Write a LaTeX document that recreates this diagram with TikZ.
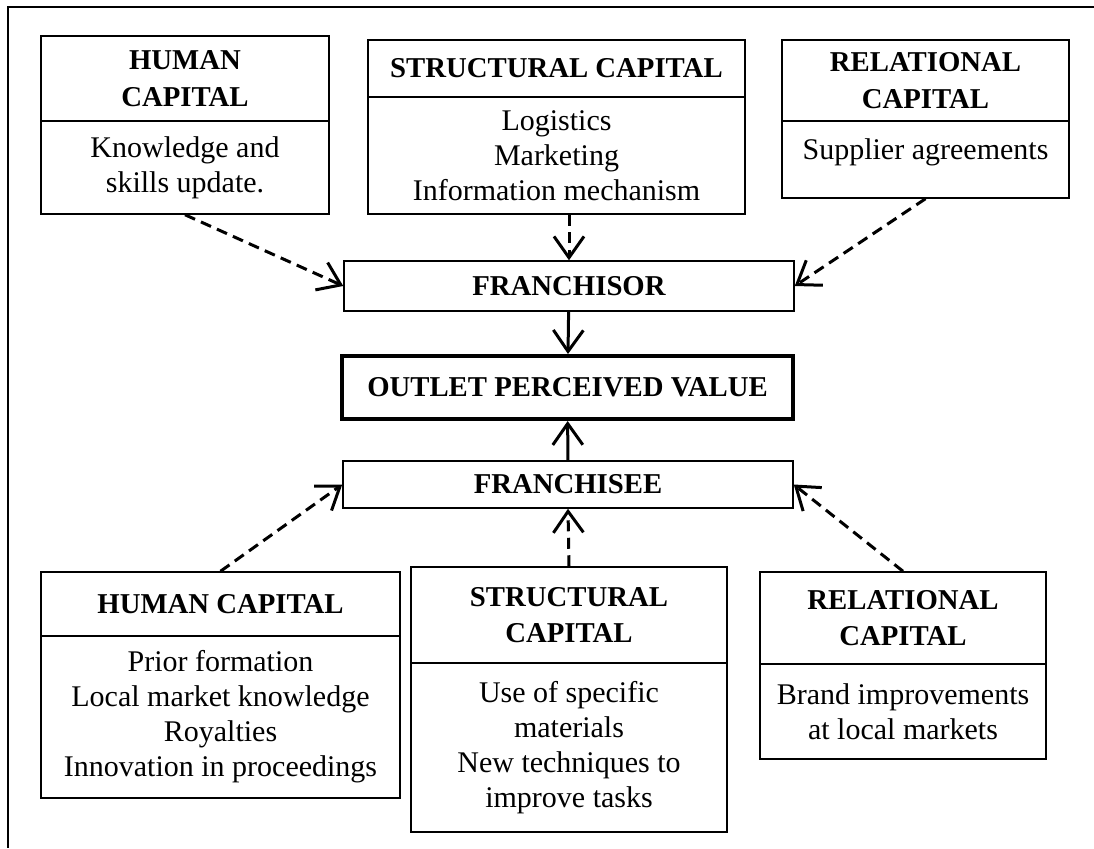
\documentclass[tikz,border=0pt]{standalone}
\usepackage{fontspec}
\setmainfont{Liberation Serif}
\usetikzlibrary{arrows.meta}

\begin{document}
\begin{tikzpicture}[x=0.4pt, y=-0.4pt,
        head/.style={draw, line width=0.6pt, align=center, inner sep=1pt, font=\bfseries\fontsize{11.5}{14.6}\selectfont},
        body/.style={draw, line width=0.6pt, align=center, inner sep=1pt, font=\fontsize{12}{14}\selectfont},
        dasharrow/.style={line width=1.2pt, dash pattern=on 4.4pt off 2.6pt, -{Straight Barb[length=8.5pt, width=12pt]}},
        fullarrow/.style={line width=1.2pt, -{Straight Barb[length=8.5pt, width=12pt]}}]
        \useasboundingbox (0,0) rectangle (1094,848);
        \draw[line width=0.8pt] (1094,7) -- (8,7) -- (8,848);

        % franchisor side
        \node[head, minimum width=115.2pt, minimum height=34pt] (hcAhead) at (185,78.5) {HUMAN\\CAPITAL};
        \node[body, minimum width=115.2pt, minimum height=37.2pt] (hcAbody) at (185,167.5) {Knowledge and\\skills update.};

        \node[head, minimum width=150.8pt, minimum height=22.8pt] (scAhead) at (556.5,68.5) {STRUCTURAL CAPITAL};
        \node[body, minimum width=150.8pt, minimum height=46.8pt] (scAbody) at (556.5,155.5) {Logistics\\Marketing\\Information mechanism};

        \node[head, minimum width=114.8pt, minimum height=32.4pt] (rcAhead) at (925.5,80.5) {RELATIONAL\\CAPITAL};
        \node[body, minimum width=114.8pt, minimum height=30.8pt] (rcAbody) at (925.5,159.5) {Supplier agreements\\[-6pt]\mbox{}};

        \node[head, minimum width=180pt, minimum height=20pt] (franchisor) at (569,286) {FRANCHISOR};
        \node[head, line width=1.6pt, minimum width=180.4pt, minimum height=25.2pt] (outlet) at (567.5,387.5) {OUTLET PERCEIVED VALUE};
        \node[head, minimum width=180pt, minimum height=18.8pt] (franchisee) at (568,484.5) {FRANCHISEE};

        % franchisee side
        \node[head, minimum width=143.6pt, minimum height=25.6pt] (hcBhead) at (220.5,604) {HUMAN CAPITAL};
        \node[body, minimum width=143.6pt, minimum height=64.8pt] (hcBbody) at (220.5,717) {Prior formation\\Local market knowledge\\Royalties\\Innovation in proceedings};

        \node[head, minimum width=126.4pt, minimum height=38.4pt] (scBhead) at (569,615) {STRUCTURAL\\CAPITAL};
        \node[body, minimum width=126.4pt, minimum height=67.6pt] (scBbody) at (569,747.5) {Use of specific\\materials\\New techniques to\\improve tasks};

        \node[head, minimum width=114.4pt, minimum height=36.8pt] (rcBhead) at (903,618) {RELATIONAL\\CAPITAL};
        \node[body, minimum width=114.4pt, minimum height=38pt] (rcBbody) at (903,711.5) {Brand improvements\\at local markets};

        \draw[dasharrow] (hcAbody.south) -- (franchisor.west);
        \draw[dasharrow] (scAbody.south -| franchisor.north) -- (franchisor.north);
        \draw[dasharrow] (rcAbody.south) -- (franchisor.east);

        \draw[fullarrow] (franchisor) -- (outlet);
        \draw[fullarrow] (franchisee) -- (outlet);

        \draw[dasharrow] (hcBhead.north) -- (franchisee.west);
        \draw[dasharrow] (scBhead.north) -- (franchisee.south);
        \draw[dasharrow] (rcBhead.north) -- (franchisee.east);
\end{tikzpicture}
\end{document}
